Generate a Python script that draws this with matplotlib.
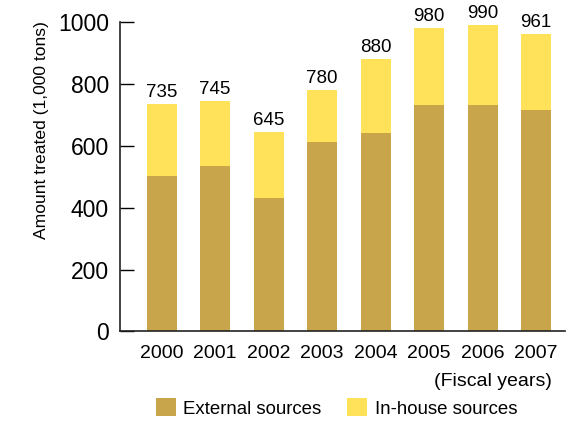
import matplotlib
matplotlib.use("Agg")
import matplotlib.pyplot as plt
import numpy as np

# Data
years = ['2000', '2001', '2002', '2003', '2004', '2005', '2006', '2007']
external = [502, 534, 431, 613, 642, 732, 732, 716]
totals = [735, 745, 645, 780, 880, 980, 990, 961]
inhouse = [t - e for t, e in zip(totals, external)]

plt.rcParams['font.family'] = ['Liberation Sans', 'DejaVu Sans']

fig = plt.figure(figsize=(5.85, 4.22), dpi=100)
ax = fig.add_axes([0.205, 0.2145, 0.761, 0.7335])

x = np.arange(len(years))
ext_color = '#C8A54A'
inh_color = '#FFE15A'
ax.bar(x, external, width=0.56, color=ext_color, label='External sources')
ax.bar(x, inhouse, width=0.56, bottom=external, color=inh_color, label='In-house sources')

for xi, t in zip(x, totals):
    ax.text(xi, t + 10, str(t), ha='center', va='bottom', fontsize=13.5)

ax.set_xlim(-0.78, 7.54)
ax.set_ylim(0, 1000)
ax.set_yticks([0, 200, 400, 600, 800, 1000])
ax.tick_params(axis='y', labelsize=16.5, length=10, width=1, direction='in', pad=8)
ax.set_xticks(x)
ax.set_xticklabels(years)
ax.tick_params(axis='x', labelsize=14, length=0, pad=10)

for s in ['top', 'right']:
    ax.spines[s].set_visible(False)
for s in ['left', 'bottom']:
    ax.spines[s].set_linewidth(1.2)
    ax.spines[s].set_color('#222222')

ax.set_ylabel('Amount treated (1,000 tons)', fontsize=12.6)
ax.yaxis.set_label_coords(-0.16, 0.65)

fig.text(0.943, 0.097, '(Fiscal years)', ha='right', va='center', fontsize=14)

leg = fig.legend(loc='center', bbox_to_anchor=(0.575, 0.033), ncol=2, frameon=False,
                 fontsize=13.4, handlelength=1.1, handleheight=1.1, columnspacing=1.35,
                 handletextpad=0.4)

fig.savefig('out.png', dpi=100)
